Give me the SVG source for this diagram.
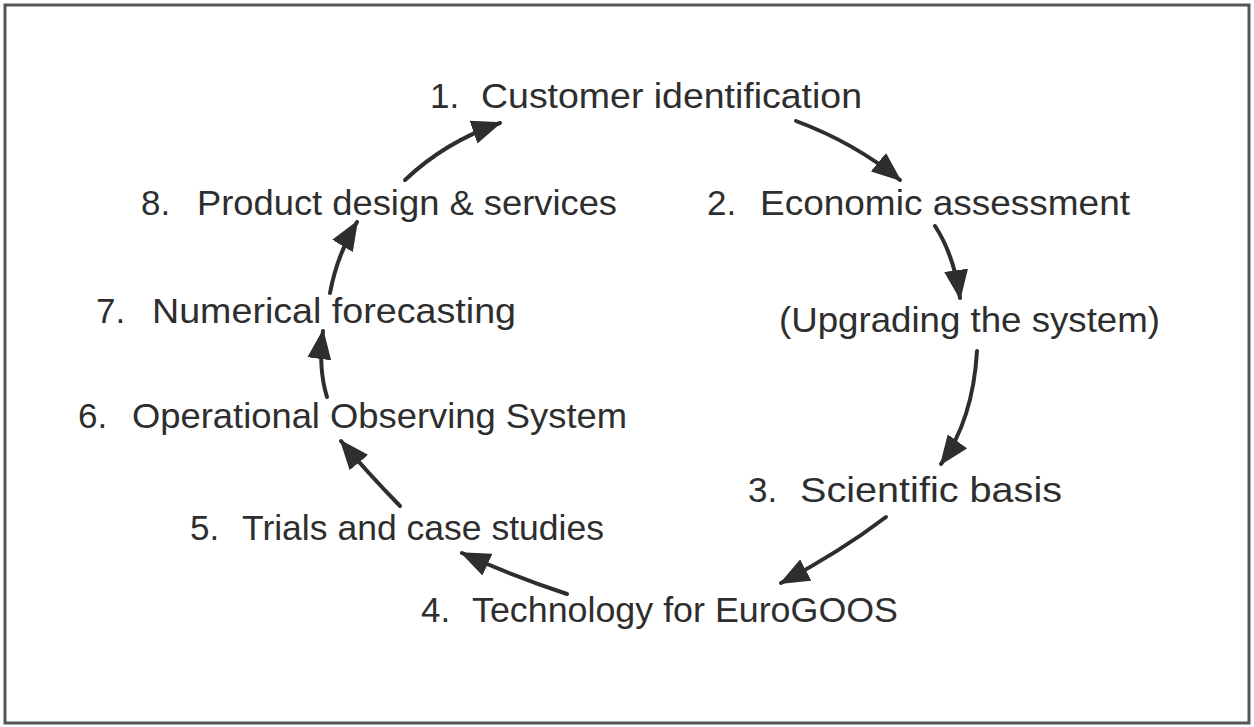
<svg xmlns="http://www.w3.org/2000/svg" width="1254" height="727" viewBox="0 0 1254 727">
<style>
.t{font-family:"Liberation Sans",Arial,sans-serif;font-size:35px;fill:#2e2e2e}
.c{fill:none;stroke:#2e2e2e;stroke-width:4;stroke-linecap:round}
</style>
<defs>
<marker id="ah" viewBox="0 0 30 24" refX="28" refY="12" markerWidth="30" markerHeight="24" markerUnits="userSpaceOnUse" orient="auto">
<path d="M0,0 L30,12 L0,24 z" fill="#2e2e2e"/>
</marker>
</defs>
<rect x="0" y="0" width="1254" height="727" fill="#fff"/>
<rect x="5" y="5" width="1244" height="718" fill="none" stroke="#555" stroke-width="3"/>
<g id="n1"><text class="t" x="430" y="108">1.</text><text class="t" x="481" y="108" textLength="381" lengthAdjust="spacingAndGlyphs">Customer identification</text></g>
<g id="n2"><text class="t" x="707" y="215">2.</text><text class="t" x="760" y="215" textLength="370" lengthAdjust="spacingAndGlyphs">Economic assessment</text></g>
<g id="nU"><text class="t" x="779" y="332" textLength="381" lengthAdjust="spacingAndGlyphs">(Upgrading the system)</text></g>
<g id="n3"><text class="t" x="748" y="502">3.</text><text class="t" x="800" y="502" textLength="262" lengthAdjust="spacingAndGlyphs">Scientific basis</text></g>
<g id="n4"><text class="t" x="421" y="622">4.</text><text class="t" x="472" y="622" textLength="426" lengthAdjust="spacingAndGlyphs">Technology for EuroGOOS</text></g>
<g id="n5"><text class="t" x="190" y="540">5.</text><text class="t" x="242" y="540" textLength="362" lengthAdjust="spacingAndGlyphs">Trials and case studies</text></g>
<g id="n6"><text class="t" x="78" y="428">6.</text><text class="t" x="132" y="428" textLength="495" lengthAdjust="spacingAndGlyphs">Operational Observing System</text></g>
<g id="n7"><text class="t" x="96" y="323">7.</text><text class="t" x="152" y="323" textLength="364" lengthAdjust="spacingAndGlyphs">Numerical forecasting</text></g>
<g id="n8"><text class="t" x="141" y="215">8.</text><text class="t" x="197" y="215" textLength="420" lengthAdjust="spacingAndGlyphs">Product design &amp; services</text></g>
<g id="connectors">
<path class="c" marker-end="url(#ah)" d="M405,180 Q445,142 500,123"/>
<path class="c" marker-end="url(#ah)" d="M796,121 Q855,143 900,180"/>
<path class="c" marker-end="url(#ah)" d="M935,226 Q954,255 960,298"/>
<path class="c" marker-end="url(#ah)" d="M977,351 Q973,420 941,464"/>
<path class="c" marker-end="url(#ah)" d="M886,517 Q840,552 781,583"/>
<path class="c" marker-end="url(#ah)" d="M567,594 Q510,575 462,553"/>
<path class="c" marker-end="url(#ah)" d="M400,506 Q365,470 341,441"/>
<path class="c" marker-end="url(#ah)" d="M327,397 Q318,368 323,331"/>
<path class="c" marker-end="url(#ah)" d="M330,293 Q337,255 357,222"/>
</g>
</svg>
